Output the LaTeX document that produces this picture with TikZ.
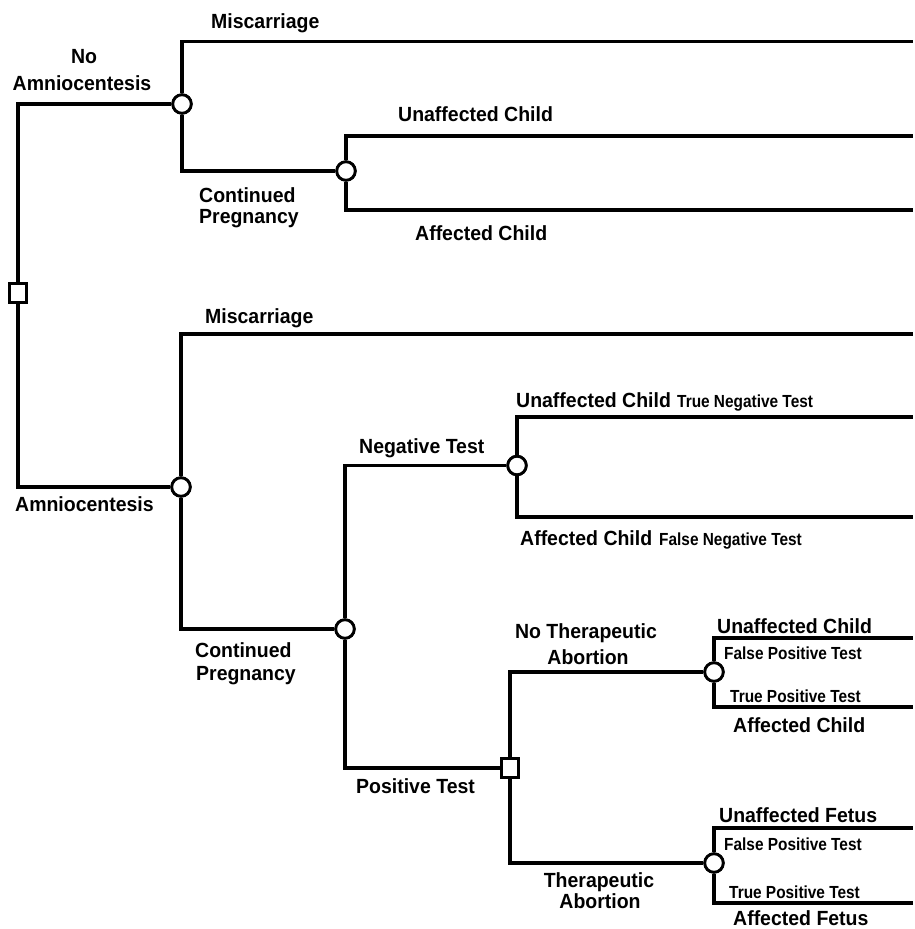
\documentclass[tikz,border=0pt]{standalone}
\usepackage{fontspec}
\setmainfont{Liberation Sans}
\newfontface\labelface{Liberation Sans Bold}[FakeStretch=0.95]
\newfontface\smallface{Liberation Sans Bold}[FakeStretch=0.88]
\begin{document}
\begin{tikzpicture}[x=1pt,y=-1pt,
  branch/.style={line width=3.1pt, line join=miter},
  chance/.style={circle, draw, line width=2.8pt, fill=white, minimum size=18.5pt, inner sep=0pt},
  decision/.style={rectangle, draw, line width=2.8pt, fill=white, minimum width=17pt, minimum height=19pt, inner sep=0pt},
  lbl/.style={font=\labelface\fontsize{20.5}{23}\selectfont, inner sep=0pt},
  sml/.style={font=\smallface\fontsize{17.5}{20}\selectfont, inner sep=0pt}]
\useasboundingbox (0,0) rectangle (915,929);

% decision and chance nodes
\node[decision] (root) at (18,293) {};
\node[chance] (noam) at (182,104) {};
\node[chance] (cont1) at (346,171) {};
\node[chance] (am) at (181,487) {};
\node[chance] (neg) at (517,465.5) {};
\node[chance] (cont2) at (345,629) {};
\node[decision] (pos) at (510,768) {};
\node[chance] (nota) at (714,672) {};
\node[chance] (ta) at (714,863) {};

% free ends of the outcome lines
\coordinate (e1) at (913,41.5);
\coordinate (e2) at (913,136);
\coordinate (e3) at (913,210);
\coordinate (e4) at (913,334);
\coordinate (e5) at (913,417);
\coordinate (e6) at (913,517);
\coordinate (e7) at (913,638);
\coordinate (e8) at (913,707);
\coordinate (e9) at (913,828);
\coordinate (e10) at (913,903);

% branches
\begin{scope}[branch]
\draw (root.north) |- (noam.west);
\draw (root.south) |- (am.west);
\draw (noam.north) |- (e1);
\draw (noam.south) |- (cont1.west);
\draw (cont1.north) |- (e2);
\draw (cont1.south) |- (e3);
\draw (am.north) |- (e4);
\draw (am.south) |- (cont2.west);
\draw (cont2.north) |- (neg.west);
\draw (cont2.south) |- (pos.west);
\draw (neg.north) |- (e5);
\draw (neg.south) |- (e6);
\draw (pos.north) |- (nota.west);
\draw (pos.south) |- (ta.west);
\draw (nota.north) |- (e7);
\draw (nota.south) |- (e8);
\draw (ta.north) |- (e9);
\draw (ta.south) |- (e10);
\end{scope}

% redraw nodes over the line ends
\node[decision] at (root) {};
\foreach \n in {noam,cont1,am,neg,cont2,nota,ta} \node[chance] at (\n) {};
\node[decision] at (pos) {};

% labels: upper tree
\node[lbl, anchor=base west] (t1) at (211,28) {Miscarriage};
\node[lbl, anchor=base] (t2) at (84,63) {No};
\node[lbl, anchor=base] (t3) at (82,90) {Amniocentesis};
\node[lbl, anchor=base west] (t4) at (398,121) {Unaffected Child};
\node[lbl, anchor=base west] (t5) at (199,202) {Continued};
\node[lbl, anchor=base west] (t6) at (199,223) {Pregnancy};
\node[lbl, anchor=base west] (t7) at (415,240) {Affected Child};

% labels: lower tree
\node[lbl, anchor=base west] (t8) at (205,323) {Miscarriage};
\node[lbl, anchor=base west] (t9) at (15,511) {Amniocentesis};
\node[lbl, anchor=base west] (t10) at (359,453) {Negative Test};
\node[lbl, anchor=base west] (t11) at (516,407) {Unaffected Child};
\node[sml, anchor=base west] (t12) at (677,407) {True Negative Test};
\node[lbl, anchor=base west] (t13) at (520,545) {Affected Child};
\node[sml, anchor=base west] (t14) at (659,545) {False Negative Test};
\node[lbl, anchor=base west] (t15) at (195,657) {Continued};
\node[lbl, anchor=base west] (t16) at (196,680) {Pregnancy};
\node[lbl, anchor=base west] (t17) at (356,793) {Positive Test};
\node[lbl, anchor=base] (t18) at (586,638) {No Therapeutic};
\node[lbl, anchor=base] (t19) at (588,664) {Abortion};
\node[lbl, anchor=base] (t20) at (599,887) {Therapeutic};
\node[lbl, anchor=base] (t21) at (600,908) {Abortion};

% labels: outcomes after a positive test
\node[lbl, anchor=base west] (t22) at (717,633) {Unaffected Child};
\node[sml, anchor=base west] (t23) at (724,659) {False Positive Test};
\node[sml, anchor=base west] (t24) at (730,702) {True Positive Test};
\node[lbl, anchor=base west] (t25) at (733,732) {Affected Child};
\node[lbl, anchor=base west] (t26) at (719,822) {Unaffected Fetus};
\node[sml, anchor=base west] (t27) at (724,850) {False Positive Test};
\node[sml, anchor=base west] (t28) at (729,898) {True Positive Test};
\node[lbl, anchor=base west] (t29) at (733,925) {Affected Fetus};
\end{tikzpicture}
\end{document}
